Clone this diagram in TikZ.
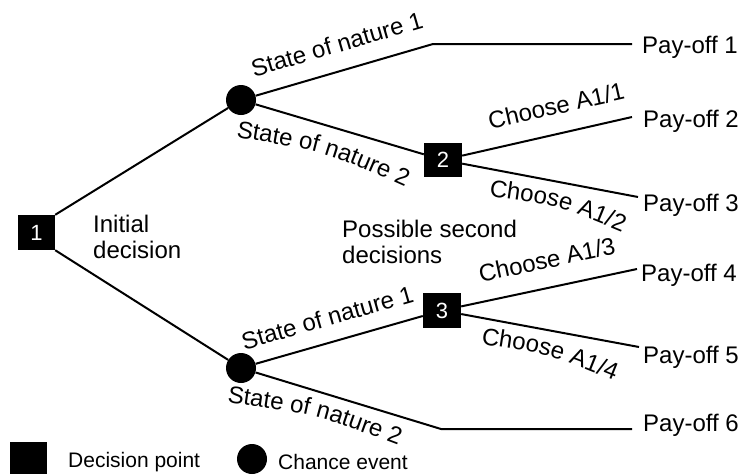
\documentclass[tikz,border=0pt]{standalone}
\usepackage{fontspec}
\setmainfont{Liberation Sans}
\usetikzlibrary{positioning,calc,decorations.text}
\newcommand{\labfont}{\fontsize{24}{26}\selectfont}
\newcommand{\keyfont}{\fontsize{21}{25}\selectfont}

\begin{document}
\begin{tikzpicture}
[x=1pt,y=-1pt,
font=\labfont,
decbox/.style={shape=rectangle,fill=black,text=white,font=\fontsize{22}{24}\selectfont,inner sep=0pt,minimum width=37pt,minimum height=35pt},
chance/.style={shape=circle,fill=black,inner sep=0pt,minimum size=30pt},
branch/.style={line width=2pt},
lab/.style={sloped,above,inner xsep=0pt,inner ysep=#1},
lab/.default=16pt,
curvedlab/.style={decorate,decoration={text along path,text={|\labfont|#1}}},
payoff/.style={anchor=base west,inner sep=0pt},
note/.style={anchor=north west,align=left,inner sep=0pt}]
\useasboundingbox (0,0) rectangle (739,474);
%%
% decision points and chance events
%%
\node[decbox] (d1) at (36.5,232.5) {1};
\node[chance] (c1) at (241,100) {};
\node[chance] (c2) at (241,368) {};
\node[decbox,minimum width=38pt,minimum height=34pt] (d2) at (443,160) {2};
\node[decbox,minimum width=38pt] (d3) at (442,310.5) {3};
\coordinate (k1) at (433,44);
\coordinate (k2) at (441,429);
%%
% pay-offs
%%
\coordinate (e1) at (632,44);
\coordinate (e2) at (632,117);
\coordinate (e3) at (638,197);
\coordinate (e4) at (637,269);
\coordinate (e5) at (639,347);
\coordinate (e6) at (632,429);
\node[payoff] (p1) at (642,53) {Pay-off 1};
\node[payoff] (p2) at (643,127) {Pay-off 2};
\node[payoff] (p3) at (643,211) {Pay-off 3};
\node[payoff] (p4) at (641,281) {Pay-off 4};
\node[payoff] (p5) at (643,363) {Pay-off 5};
\node[payoff] (p6) at (643,431) {Pay-off 6};
%%
% branches
%%
\draw[branch] (d1.north east) -- (c1);
\draw[branch] (d1.south east) -- (c2);
\draw[branch] (c1) -- node[lab=17pt,pos=.5] {State of nature 1} (k1) -- (e1);
\draw[branch] (c1) -- (d2);
\draw[branch] (d2) -- node[lab=18pt,pos=.59] {Choose A1/1} (e2);
\draw[branch] (d2) -- (e3);
\draw[branch] (c2) -- node[lab=15pt,pos=.47] {State of nature 1} (d3);
\draw[branch] (c2) -- (k2) -- (e6);
\draw[branch] (d3) -- node[lab=18pt,pos=.52] {Choose A1/3} (e4);
\draw[branch] (d3) -- (e5);
%% labels bending under the lower branches
\path[curvedlab=State of nature 2] (236,137) .. controls (326,152) .. (407,188) -- +(22,10);
\path[curvedlab=State of nature 2] (227,402) .. controls (317,415) .. (397,445) -- +(22,9);
\path[curvedlab=Choose A1/2] (489,196) .. controls (556,205) .. (619,231) -- +(20,8);
\path[curvedlab=Choose A1/4] (481,344) .. controls (548,354) .. (612,380) -- +(20,8);
%%
% notes
%%
\node[note] (init) at (93,215) {Initial\\decision};
\node[note] (second) at (342,220) {Possible second\\decisions};
%%
% legend
%%
\node[decbox,minimum width=37pt,minimum height=32pt] (ld) at (28.5,458) {};
\node[anchor=west,inner sep=0pt,font=\keyfont] (ldt) at (68,462) {Decision point};
\node[chance] (lc) at (252,459) {};
\node[anchor=west,inner sep=0pt,font=\keyfont] (lct) at (278,462) {Chance event};
\end{tikzpicture}
\end{document}
